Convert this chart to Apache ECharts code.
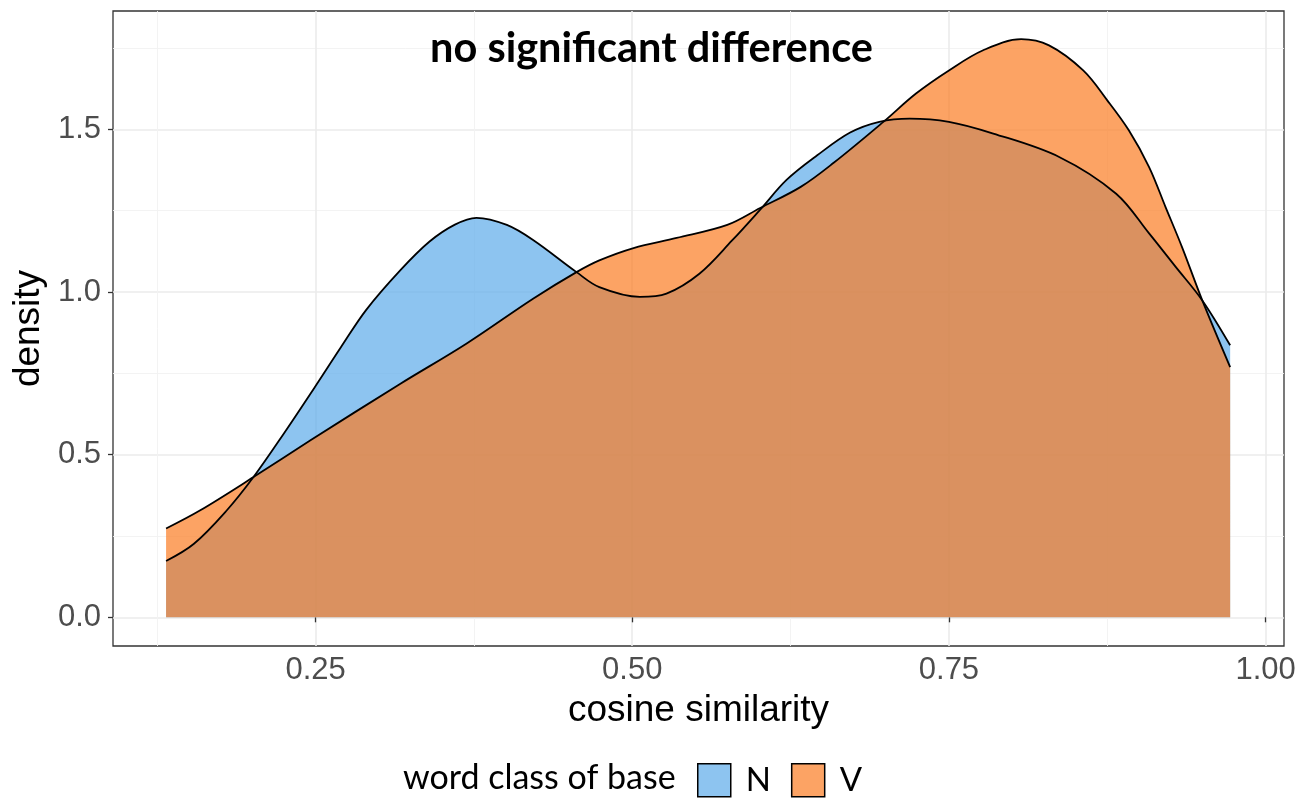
<!DOCTYPE html>
<html>
<head>
<meta charset="utf-8">
<script src="https://cdn.jsdelivr.net/npm/echarts@6/dist/echarts.min.js"></script>
<style>
  html, body { margin: 0; padding: 0; background: #fff; }
  #chart { width: 1303px; height: 800px; }
</style>
</head>
<body>
<div id="chart"></div>
<script>
// density of cosine similarity, word class N (noun base)
const nDensity = [
  [0.132, 0.173], [0.154, 0.226], [0.180, 0.329], [0.201, 0.431], [0.225, 0.565],
  [0.249, 0.705], [0.270, 0.830], [0.290, 0.945], [0.317, 1.067], [0.340, 1.155],
  [0.360, 1.207], [0.377, 1.228], [0.401, 1.206], [0.422, 1.159], [0.456, 1.061],
  [0.474, 1.015], [0.506, 0.985], [0.527, 0.995], [0.553, 1.056], [0.579, 1.159],
  [0.601, 1.253], [0.622, 1.345], [0.646, 1.420], [0.672, 1.490], [0.695, 1.523],
  [0.719, 1.533], [0.750, 1.523], [0.785, 1.487], [0.837, 1.415], [0.882, 1.302],
  [0.908, 1.180], [0.929, 1.077], [0.950, 0.974], [0.972, 0.836]
];
// word class V (verb base)
const vDensity = [
  [0.132, 0.273], [0.159, 0.329], [0.201, 0.431], [0.246, 0.544], [0.317, 0.718],
  [0.369, 0.841], [0.422, 0.980], [0.456, 1.061], [0.474, 1.097], [0.501, 1.135],
  [0.535, 1.166], [0.575, 1.206], [0.601, 1.258], [0.633, 1.323], [0.659, 1.397],
  [0.698, 1.522], [0.724, 1.610], [0.750, 1.681], [0.777, 1.743], [0.807, 1.777],
  [0.829, 1.758], [0.856, 1.681], [0.875, 1.589], [0.892, 1.497], [0.908, 1.384],
  [0.921, 1.261], [0.934, 1.138], [0.950, 0.974], [0.972, 0.769]
];
const groups = ["N", "V"];
const xTicks = [0.25, 0.5, 0.75, 1.0];
const xMinorTicks = [0.125, 0.375, 0.625, 0.875];
const yTicks = [0, 0.5, 1.0, 1.5];
const yMinorTicks = [0.25, 0.75, 1.25, 1.75];

const X_MIN = 0.0901, X_MAX = 1.0145;
const Y_MIN = -0.0882, Y_MAX = 1.8636;

const fillN = "rgba(92,171,234,0.7)";
const fillV = "rgba(251,124,34,0.7)";
const gridMajor = { color: "#EBEBEB", width: 1.6 };
const gridMinor = { color: "#F2F2F2", width: 0.9 };

const chart = echarts.init(document.getElementById("chart"), null, { renderer: "canvas" });

chart.setOption({
  animation: false,
  backgroundColor: "#fff",
  title: [
    {
      text: "no significant difference",
      left: "center",
      top: 23,
      textStyle: { fontFamily: "Lato", fontWeight: "bold", fontSize: 41.5, color: "#000" },
    },
    {
      text: "word class of base",
      left: 403,
      top: 761,
      padding: 0,
      textStyle: { fontFamily: "Lato", fontWeight: "normal", fontSize: 34, color: "#000" },
    },
  ],
  grid: {
    left: 113,
    right: 19,
    top: 11,
    bottom: 154,
    show: true,
    borderColor: "#333",
    borderWidth: 1.3,
    backgroundColor: "transparent",
  },
  legend: {
    left: 697,
    top: 763,
    padding: 0,
    itemWidth: 33,
    itemHeight: 33,
    itemGap: 20,
    textStyle: { fontFamily: "Lato", fontSize: 33, color: "#000", padding: [0, 0, 0, 10] },
    data: [
      { name: groups[0], icon: "rect", itemStyle: { color: "rgb(141,196,240)", borderColor: "#000", borderWidth: 1.5 } },
      { name: groups[1], icon: "rect", itemStyle: { color: "rgb(252,163,100)", borderColor: "#000", borderWidth: 1.5 } },
    ],
  },
  xAxis: [
    {
      type: "value",
      min: X_MIN,
      max: X_MAX,
      name: "cosine similarity",
      nameLocation: "middle",
      nameGap: 46,
      nameTextStyle: { fontFamily: "Liberation Sans", fontSize: 37, color: "#000" },
      axisLine: { show: false },
      axisTick: { customValues: xTicks, length: 5, lineStyle: { color: "#333", width: 1.3 } },
      axisLabel: {
        customValues: xTicks,
        formatter: (v) => v.toFixed(2),
        margin: 9,
        fontFamily: "Liberation Sans",
        fontSize: 31,
        color: "#4D4D4D",
      },
      splitLine: { show: true, lineStyle: gridMajor },
    },
    {
      type: "value",
      min: X_MIN,
      max: X_MAX,
      position: "top",
      axisLine: { show: false },
      axisTick: { show: false, customValues: xMinorTicks },
      axisLabel: { show: false, customValues: xMinorTicks },
      splitLine: { show: true, lineStyle: gridMinor },
    },
  ],
  yAxis: [
    {
      type: "value",
      min: Y_MIN,
      max: Y_MAX,
      name: "density",
      nameLocation: "middle",
      nameGap: 58,
      nameTextStyle: { fontFamily: "Liberation Sans", fontSize: 37, color: "#000" },
      axisLine: { show: false },
      axisTick: { customValues: yTicks, length: 5, lineStyle: { color: "#333", width: 1.3 } },
      axisLabel: {
        customValues: yTicks,
        formatter: (v) => v.toFixed(1),
        margin: 12,
        fontFamily: "Liberation Sans",
        fontSize: 31,
        color: "#4D4D4D",
      },
      splitLine: { show: true, lineStyle: gridMajor },
    },
    {
      type: "value",
      min: Y_MIN,
      max: Y_MAX,
      position: "right",
      axisLine: { show: false },
      axisTick: { show: false, customValues: yMinorTicks },
      axisLabel: { show: false, customValues: yMinorTicks },
      splitLine: { show: true, lineStyle: gridMinor },
    },
  ],
  series: [
    {
      name: groups[0],
      type: "line",
      data: nDensity,
      smooth: 0.35,
      symbol: "none",
      lineStyle: { color: "#000", width: 1.8 },
      itemStyle: { color: "rgb(141,196,240)" },
      areaStyle: { color: fillN, opacity: 1 },
    },
    {
      name: groups[1],
      type: "line",
      data: vDensity,
      smooth: 0.35,
      symbol: "none",
      lineStyle: { color: "#000", width: 1.8 },
      itemStyle: { color: "rgb(252,163,100)" },
      areaStyle: { color: fillV, opacity: 1 },
    },
  ],
});
</script>
</body>
</html>
